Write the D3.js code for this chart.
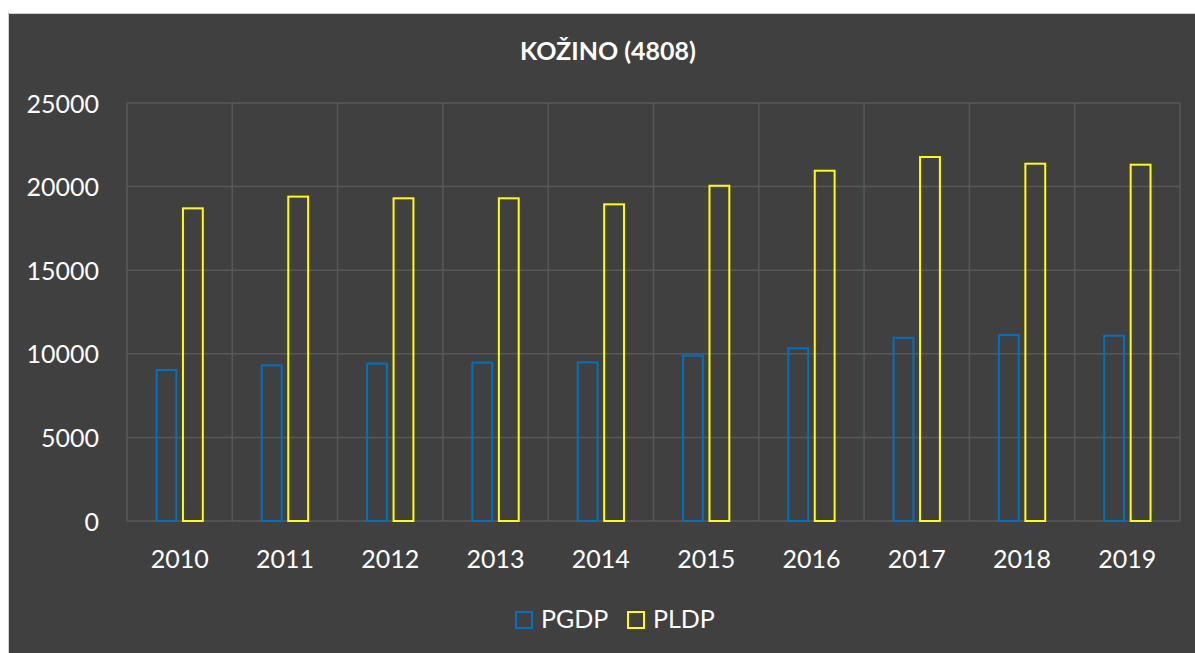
<!DOCTYPE html>
<html>
<head>
<meta charset="utf-8">
<script src="https://d3js.org/d3.v7.min.js"></script>
<style>
  html, body { margin: 0; padding: 0; background: #ffffff; }
  svg { display: block; }
  text { font-family: Lato, "Open Sans", sans-serif; fill: #ffffff; }
</style>
</head>
<body>
<div id="viz"></div>
<script type="text/javascript">
    // data
    var years = ["2010", "2011", "2012", "2013", "2014", "2015", "2016", "2017", "2018", "2019"];
    var series = ["PGDP", "PLDP"];
    var pgdp = [9030, 9310, 9410, 9470, 9490, 9890, 10330, 10960, 11120, 11080];
    var pldp = [18700, 19400, 19300, 19300, 18940, 20050, 20950, 21770, 21370, 21310];
    var yTicks = [0, 5000, 10000, 15000, 20000, 25000];
    var colors = { "PGDP": "#0070C0", "PLDP": "#FFFF00" };

    var width = 1195,
        height = 653;

    var margin = { top: 103, right: 15, bottom: 132, left: 127 };

    var svg = d3.select("#viz")
        .append("svg")
        .attr("width", width)
        .attr("height", height);

    // chart area background with light frame on top/left
    svg.append("rect")
        .attr("x", 8).attr("y", 13)
        .attr("width", width - 8).attr("height", height - 13)
        .attr("fill", "#404040");
    svg.append("path")
        .attr("d", "M8.5," + height + "V13.5H" + width)
        .attr("fill", "none")
        .attr("stroke", "#d0d0d0")
        .attr("stroke-width", 1);

    var x = d3.scaleBand()
        .domain(years)
        .range([margin.left, width - margin.right])
        .padding(0);

    var bw = x.bandwidth();
    var xSub = d3.scaleBand()
        .domain(series)
        .range([bw * 0.28, bw * 0.72])
        .paddingInner(0.25);

    var y = d3.scaleLinear()
        .domain([0, 25000])
        .range([height - margin.bottom, margin.top]);

    // horizontal gridlines
    svg.append("g")
        .selectAll("line")
        .data(yTicks)
        .enter().append("line")
        .attr("x1", margin.left)
        .attr("x2", width - margin.right)
        .attr("y1", function(d) { return y(d); })
        .attr("y2", function(d) { return y(d); })
        .attr("stroke", "#585858")
        .attr("stroke-width", 1.5);

    // vertical gridlines at category edges
    var edges = years.map(function(d) { return x(d); }).concat([x(years[years.length - 1]) + bw]);
    svg.append("g")
        .selectAll("line")
        .data(edges)
        .enter().append("line")
        .attr("x1", function(d) { return d; })
        .attr("x2", function(d) { return d; })
        .attr("y1", y(25000))
        .attr("y2", y(0))
        .attr("stroke", "#585858")
        .attr("stroke-width", 1.5);

    // y axis labels
    var yAxis = d3.axisLeft(y).tickValues(yTicks).tickSize(0).tickPadding(0)
        .tickFormat(function(d) { return d; });
    var gy = svg.append("g")
        .attr("transform", "translate(" + (margin.left - 28) + ",0)")
        .call(yAxis);
    gy.select(".domain").remove();
    gy.selectAll("text")
        .style("font-size", "25px")
        .attr("fill", "#ffffff")
        .attr("dy", "0.36em");

    // x axis labels
    var xAxis = d3.axisBottom(x).tickSize(0).tickPadding(0);
    var gx = svg.append("g")
        .attr("transform", "translate(0," + (y(0) + 29) + ")")
        .call(xAxis);
    gx.select(".domain").remove();
    gx.selectAll("text")
        .style("font-size", "25px")
        .attr("fill", "#ffffff");

    // bars
    var rows = years.map(function(d, i) {
        return { year: d, values: [
            { key: "PGDP", value: pgdp[i] },
            { key: "PLDP", value: pldp[i] }
        ]};
    });

    var groups = svg.append("g")
        .selectAll("g")
        .data(rows)
        .enter().append("g")
        .attr("transform", function(d) { return "translate(" + x(d.year) + ",0)"; });

    groups.selectAll("rect")
        .data(function(d) { return d.values; })
        .enter().append("rect")
        .attr("x", function(d) { return xSub(d.key); })
        .attr("y", function(d) { return y(d.value); })
        .attr("width", xSub.bandwidth())
        .attr("height", function(d) { return y(0) - y(d.value); })
        .attr("fill", "none")
        .attr("stroke", function(d) { return colors[d.key]; })
        .attr("stroke-width", 2);

    // title
    svg.append("text")
        .attr("x", 608)
        .attr("y", 60)
        .attr("text-anchor", "middle")
        .style("font-size", "25px")
        .style("font-weight", "bold")
        .text("KOŽINO (4808)");

    // legend
    var legendX = [516, 628];
    var legend = svg.append("g")
        .selectAll("g")
        .data(series)
        .enter().append("g")
        .attr("transform", function(d, i) { return "translate(" + legendX[i] + ",612)"; });

    legend.append("rect")
        .attr("width", 16)
        .attr("height", 16)
        .attr("fill", "none")
        .attr("stroke", function(d) { return colors[d]; })
        .attr("stroke-width", 2);

    legend.append("text")
        .attr("x", 25)
        .attr("y", 16)
        .style("font-size", "25px")
        .text(function(d) { return d; });
</script>
</body>
</html>
